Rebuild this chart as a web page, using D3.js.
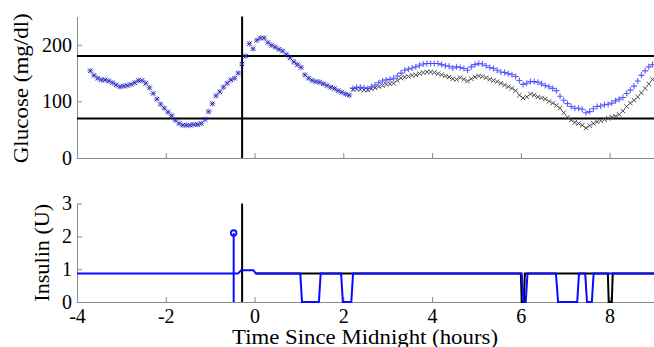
<!DOCTYPE html>
<html>
<head>
<meta charset="utf-8">
<script src="https://cdn.jsdelivr.net/npm/d3@7"></script>
<style>
  body { margin: 0; background: #fff; }
  svg { display: block; font-family: "Liberation Serif", "Times New Roman", serif; }
</style>
</head>
<body>
<svg id="chart" width="654" height="347"></svg>
<script>
// CGM readings every 5 minutes, first one at -3.70 h
const cgmStartHours = -3.70;
const cgmStepHours = 5 / 60;
const glucoseHistory = [
  154, 146, 141, 138, 138, 136, 133, 129, 126, 127,
  128, 130, 133, 137, 137, 132, 124, 114, 104, 95,
  88, 81, 75, 67, 61, 58, 58, 58, 59, 59,
  61, 68, 82, 96, 110, 117, 125, 132, 138, 141,
  150, 166, 180, 202, 193, 208, 212, 212, 204, 199,
  196, 192, 189, 183, 177, 170, 165, 160, 147, 141,
  137, 135, 134, 131, 128, 125, 123, 119, 116, 113,
  111
];
// the two series split after the history ends
const glucoseBlue = [
  123, 125, 125, 124, 123, 126, 129, 133, 136, 138,
  139, 141, 145, 150, 155, 157, 159, 161, 164, 166,
  167, 167, 167, 167, 165, 163, 162, 159, 161, 160,
  158, 155, 161, 165, 167, 166, 163, 160, 158, 155,
  152, 151, 149, 147, 144, 137, 130, 132, 135, 135,
  134, 131, 128, 126, 123, 119, 109, 102, 96, 91,
  88, 88, 86, 80, 82, 87, 91, 92, 94, 95,
  97, 101, 104, 107, 114, 120, 127, 136, 146, 154,
  161, 165
];
const glucoseBlack = [
  121, 122, 121, 120, 120, 122, 124, 126, 128, 130,
  131, 132, 137, 141, 143, 144, 146, 147, 149, 151,
  152, 152, 151, 149, 147, 145, 143, 140, 139, 142,
  139, 136, 140, 143, 145, 144, 142, 139, 137, 135,
  132, 129, 126, 123, 119, 111, 106, 108, 113, 111,
  108, 106, 104, 100, 97, 93, 88, 80, 72, 67,
  63, 61, 58, 53, 57, 61, 64, 66, 68, 70,
  72, 74, 77, 83, 91, 97, 102, 108, 115, 123,
  131, 139
];
const glucoseLimits = [70, 180];
const nowHours = -0.28;

const bolusHours = -0.47;
const bolusUnits = 2.1;
const insulinBlueTimes = [-4, -0.37, -0.30, -0.03, 0.03, 1.03, 1.07, 1.45, 1.49, 1.95, 1.99, 2.18, 2.22,
  6.02, 6.06, 6.11, 6.15, 6.79, 6.84, 7.27, 7.31, 7.45, 7.49, 7.60, 7.64, 9];
const insulinBlueRates = [0.87, 0.87, 0.97, 0.97, 0.87, 0.87, 0, 0, 0.87, 0.87, 0, 0, 0.87,
  0.87, 0, 0, 0.87, 0.87, 0, 0, 0.87, 0.87, 0, 0, 0.87, 0.87];
const insulinBlackTimes = [0.03, 6.0, 6.02, 6.07, 6.09, 7.96, 7.98, 8.05, 8.07, 9];
const insulinBlackRates = [0.87, 0.87, 0, 0, 0.87, 0.87, 0, 0, 0.87, 0.87];

const timeTicks = [-4, -2, 0, 2, 4, 6, 8];
const glucoseTicks = [0, 100, 200];
const insulinTicks = [0, 1, 2, 3];

const svg = d3.select("#chart");
const axisGray = "#8a8a8a";
const serif = "'Liberation Serif', 'Times New Roman', Times, serif";
const plainNum = d => String(d); // keep the ascii hyphen for negatives

const x = d3.scaleLinear().domain([-4, 9]).range([77, 654]);
const yG = d3.scaleLinear().domain([0, 250]).range([158, 16.5]);
const yI = d3.scaleLinear().domain([0, 3]).range([302, 203.5]);

const cgmTime = i => cgmStartHours + i * cgmStepHours;
const split = glucoseHistory.length;

function styleAxis(g) {
  g.attr("font-family", serif).attr("font-size", 20);
  g.select(".domain").attr("stroke", axisGray);
  g.selectAll(".tick line").attr("stroke", axisGray);
  g.selectAll(".tick text").attr("fill", "#000");
}

// glucose panel axes
svg.append("g")
  .attr("transform", `translate(0,${yG(0)})`)
  .call(d3.axisBottom(x).tickValues(timeTicks).tickSizeInner(-5).tickSizeOuter(0).tickFormat(""))
  .call(styleAxis);
svg.append("g")
  .attr("transform", `translate(${x(-4)},0)`)
  .call(d3.axisLeft(yG).tickValues(glucoseTicks).tickSizeInner(-5).tickSizeOuter(0).tickPadding(5).tickFormat(plainNum))
  .call(styleAxis);

// insulin panel axes
svg.append("g")
  .attr("transform", `translate(0,${yI(0)})`)
  .call(d3.axisBottom(x).tickValues(timeTicks).tickSizeInner(-5).tickSizeOuter(0).tickPadding(7).tickFormat(plainNum))
  .call(styleAxis);
svg.append("g")
  .attr("transform", `translate(${x(-4)},0)`)
  .call(d3.axisLeft(yI).tickValues(insulinTicks).tickSizeInner(-5).tickSizeOuter(0).tickPadding(5).tickFormat(plainNum))
  .call(styleAxis);

// target range and "now" lines
svg.append("g")
  .selectAll("line")
  .data(glucoseLimits)
  .join("line")
  .attr("x1", x(-4)).attr("x2", x(9))
  .attr("y1", d => yG(d)).attr("y2", d => yG(d))
  .attr("stroke", "#000").attr("stroke-width", 2);
svg.append("line")
  .attr("x1", x(nowHours)).attr("x2", x(nowHours))
  .attr("y1", yG(250)).attr("y2", yG(0))
  .attr("stroke", "#000").attr("stroke-width", 2);
svg.append("line")
  .attr("x1", x(nowHours)).attr("x2", x(nowHours))
  .attr("y1", yI(3)).attr("y2", yI(0))
  .attr("stroke", "#000").attr("stroke-width", 2);

const plusPath = (px, py, s) => `M${px - s},${py}H${px + s}M${px},${py - s}V${py + s}`;
const crossPath = (px, py, s) => `M${px - s},${py - s}L${px + s},${py + s}M${px - s},${py + s}L${px + s},${py - s}`;

const blackPts = glucoseHistory.concat(glucoseBlack).map((g, i) => [cgmTime(i), g]);
const bluePts = glucoseHistory.concat(glucoseBlue).map((g, i) => [cgmTime(i), g]);

// black x markers
svg.append("g")
  .selectAll("path")
  .data(blackPts)
  .join("path")
  .attr("d", d => crossPath(x(d[0]), yG(d[1]), 2.2))
  .attr("stroke", (d, i) => i < split ? "#1a1a80" : "#4a4a4a")
  .attr("stroke-width", 1)
  .attr("fill", "none");

// blue + markers
svg.append("g")
  .selectAll("path")
  .data(bluePts)
  .join("path")
  .attr("d", d => plusPath(x(d[0]), yG(d[1]), 3))
  .attr("stroke", "#2f2fff")
  .attr("stroke-opacity", (d, i) => i < split ? 0.55 : 0.8)
  .attr("stroke-width", 1.1)
  .attr("fill", "none");

// insulin
const insLine = d3.line().x(d => x(d[0])).y(d => yI(d[1]));
svg.append("path")
  .datum(insulinBlackTimes.map((t, i) => [t, insulinBlackRates[i]]))
  .attr("d", insLine)
  .attr("fill", "none").attr("stroke", "#000").attr("stroke-width", 2);
svg.append("path")
  .datum(insulinBlueTimes.map((t, i) => [t, insulinBlueRates[i]]))
  .attr("d", insLine)
  .attr("fill", "none").attr("stroke", "#0a0aff").attr("stroke-width", 2);

// bolus stem
svg.append("line")
  .attr("x1", x(bolusHours)).attr("x2", x(bolusHours))
  .attr("y1", yI(0)).attr("y2", yI(bolusUnits))
  .attr("stroke", "#0a0aff").attr("stroke-width", 2);
svg.append("circle")
  .attr("cx", x(bolusHours)).attr("cy", yI(bolusUnits))
  .attr("r", 2.8)
  .attr("fill", "none").attr("stroke", "#0a0aff").attr("stroke-width", 1.8);

// axis titles
svg.append("text")
  .attr("transform", `translate(28,${yG(125) + 1}) rotate(-90)`)
  .attr("text-anchor", "middle")
  .attr("textLength", 150).attr("lengthAdjust", "spacingAndGlyphs")
  .style("font-size", "21px")
  .text("Glucose (mg/dl)");
svg.append("text")
  .attr("transform", `translate(49,${yI(1.5)}) rotate(-90)`)
  .attr("text-anchor", "middle")
  .attr("textLength", 98).attr("lengthAdjust", "spacingAndGlyphs")
  .style("font-size", "21px")
  .text("Insulin (U)");
svg.append("text")
  .attr("x", 365).attr("y", 344)
  .attr("text-anchor", "middle")
  .attr("textLength", 266).attr("lengthAdjust", "spacingAndGlyphs")
  .style("font-size", "20px")
  .text("Time Since Midnight (hours)");
</script>
</body>
</html>
